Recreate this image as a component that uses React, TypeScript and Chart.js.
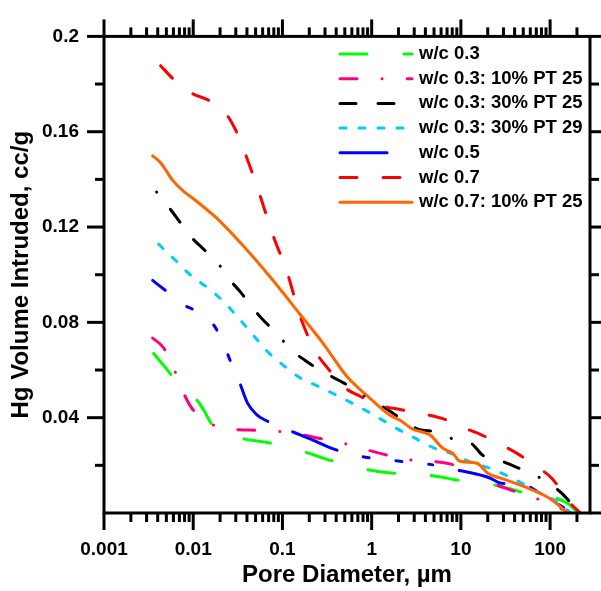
import React, { useEffect, useRef } from 'react';
import { Chart, registerables } from 'chart.js';

Chart.register(...registerables);

// ---------- data (pore diameter in µm, Hg volume intruded in cc/g) ----------
const SERIES_NAMES = [
  'w/c 0.3',
  'w/c 0.3: 10% PT 25',
  'w/c 0.3: 30% PT 25',
  'w/c 0.3: 30% PT 29',
  'w/c 0.5',
  'w/c 0.7',
  'w/c 0.7: 10% PT 25',
];

const WC03_X = [0.0036, 0.00466, 0.00586, 0.0109, 0.0134, 0.0164, 0.0339, 0.0695, 0.171, 0.352, 0.845, 1.74, 4.29, 9.27, 21.1, 35.5, 67.6, 112, 158, 204];
const WC03_Y = [0.0669, 0.0619, 0.0574, 0.0476, 0.0426, 0.0369, 0.0315, 0.0295, 0.0258, 0.022, 0.0184, 0.0167, 0.0159, 0.0138, 0.0122, 0.0102, 0.0073, 0.0064, 0.004, 0.0003];

const WC03_PT25_10_X = [0.00351, 0.00466, 0.00604, 0.00762, 0.00955, 0.0148, 0.0263, 0.0427, 0.0813, 0.167, 0.245, 0.452, 0.845, 1.35, 2.48, 4.71, 7.55, 12.6, 22.1, 33.9, 61.7, 166];
const WC03_PT25_10_Y = [0.0734, 0.0693, 0.0607, 0.0512, 0.0442, 0.038, 0.0351, 0.0348, 0.0344, 0.0328, 0.0315, 0.0295, 0.0267, 0.0247, 0.0224, 0.0217, 0.0206, 0.0176, 0.0127, 0.01, 0.0069, 0.0003];

const WC03_PT25_30_X = [0.00389, 0.0053, 0.00703, 0.00933, 0.013, 0.0187, 0.0248, 0.0339, 0.046, 0.0631, 0.0877, 0.122, 0.18, 0.265, 0.422, 0.637, 0.962, 1.49, 2.19, 3.31, 5.37, 8.13, 13.2, 17.6, 28.8, 44.7, 70.8, 107, 155, 204];
const WC03_PT25_30_Y = [0.1347, 0.1284, 0.1223, 0.1161, 0.1108, 0.1051, 0.0985, 0.0927, 0.0862, 0.0804, 0.0751, 0.0689, 0.064, 0.0599, 0.0558, 0.0521, 0.0476, 0.0435, 0.0393, 0.0352, 0.034, 0.0311, 0.0291, 0.0242, 0.0217, 0.0188, 0.0155, 0.0114, 0.006, 0.0];

const WC03_PT29_30_X = [0.00411, 0.0049, 0.00603, 0.00933, 0.0145, 0.0214, 0.0316, 0.0457, 0.0661, 0.102, 0.158, 0.26, 0.437, 0.708, 1.12, 1.78, 2.99, 4.9, 7.76, 12.3, 22.4, 37.2, 75.9, 129, 166];
const WC03_PT29_30_Y = [0.1128, 0.1099, 0.1068, 0.0998, 0.0945, 0.0891, 0.0821, 0.0752, 0.0682, 0.062, 0.0567, 0.0529, 0.0488, 0.0447, 0.0406, 0.0361, 0.0316, 0.0274, 0.025, 0.0217, 0.0184, 0.0147, 0.0085, 0.004, 0.0003];

const WC05_X = [0.00351, 0.00516, 0.0082, 0.0101, 0.0161, 0.0182, 0.0236, 0.0255, 0.0324, 0.0405, 0.0513, 0.0646, 0.116, 0.216, 0.391, 0.708, 0.891, 1.7, 2.08, 3.76, 4.51, 8.13, 21.1, 27.5, 55.0, 83.2, 129, 172];
const WC05_Y = [0.0976, 0.0927, 0.0869, 0.0853, 0.0799, 0.0771, 0.068, 0.0647, 0.0557, 0.0462, 0.0413, 0.0389, 0.0348, 0.0307, 0.0266, 0.0241, 0.0233, 0.0221, 0.0217, 0.0208, 0.0204, 0.0184, 0.0147, 0.0126, 0.0114, 0.0073, 0.0032, 0.0003];

const WC07_X = [0.00431, 0.00603, 0.00982, 0.0152, 0.0242, 0.0305, 0.0384, 0.0552, 0.0794, 0.114, 0.158, 0.245, 0.326, 0.479, 0.741, 1.31, 2.08, 3.96, 6.14, 10.3, 16.3, 28.8, 43.4, 72.8, 107, 151, 214];
const WC07_Y = [0.1877, 0.182, 0.176, 0.173, 0.1667, 0.16, 0.1507, 0.134, 0.116, 0.1005, 0.0824, 0.0667, 0.0605, 0.0531, 0.049, 0.045, 0.0434, 0.0414, 0.0397, 0.036, 0.0331, 0.0285, 0.0248, 0.0191, 0.0142, 0.006, 0.0003];

const WC07_PT25_10_X = [0.00351, 0.00431, 0.00589, 0.00759, 0.0112, 0.0186, 0.0367, 0.0733, 0.158, 0.288, 0.525, 0.891, 1.61, 2.08, 2.88, 4.51, 6.31, 8.13, 9.77, 15.1, 20.0, 27.5, 55.0, 100, 158];
const WC07_PT25_10_Y = [0.1499, 0.147, 0.1396, 0.1354, 0.1305, 0.1235, 0.1119, 0.0989, 0.0833, 0.071, 0.0574, 0.0492, 0.041, 0.0389, 0.0352, 0.0327, 0.0271, 0.025, 0.0217, 0.0209, 0.0167, 0.0147, 0.0106, 0.006, 0.0];

const X_TICKS = [0.001, 0.01, 0.1, 1, 10, 100];
const X_TICK_LABELS = ['0.001', '0.01', '0.1', '1', '10', '100'];
const Y_TICKS = [0.04, 0.08, 0.12, 0.16, 0.2];
const Y_TICK_LABELS = ['0.04', '0.08', '0.12', '0.16', '0.2'];
const X_TITLE = 'Pore Diameter, \u00b5m';
const Y_TITLE = 'Hg Volume Intruded, cc/g';

// ---------- styles ----------
const X_MIN = 0.001;
const X_MAX = 280;
const Y_MIN = 0;
const Y_MAX = 0.2;
const FONT = '"Liberation Sans", Arial, Helvetica, sans-serif';
const COLORS = ['#00FF00', '#FF0080', '#000000', '#00CCFF', '#0000FF', '#FF0000', '#FF6600'];
const DASHES: number[][] = [
  [27, 37],
  [17, 25, 0.1, 25],
  [16, 22, 16, 22, 0.1, 22],
  [6, 13],
  [47, 27, 6, 27, 6, 27, 6, 27, 47, 27, 48, 27, 6, 27, 6, 27, 4, 27],
  [17, 26],
  [],
];
const DASH_OFFSETS = [0, 0, 76, 0, 31, 0, 0];

const SERIES_X = [WC03_X, WC03_PT25_10_X, WC03_PT25_30_X, WC03_PT29_30_X, WC05_X, WC07_X, WC07_PT25_10_X];
const SERIES_Y = [WC03_Y, WC03_PT25_10_Y, WC03_PT25_30_Y, WC03_PT29_30_Y, WC05_Y, WC07_Y, WC07_PT25_10_Y];

const framePlugin = {
  id: 'frameTicks',
  afterDatasetsDraw(chart: any) {
    const { ctx, chartArea: a, scales } = chart;
    const xs = scales.x;
    const ys = scales.y;
    ctx.save();
    ctx.strokeStyle = '#000';
    ctx.lineWidth = 3;
    ctx.lineCap = 'butt';
    ctx.setLineDash([]);
    ctx.strokeRect(a.left, a.top, a.right - a.left, a.bottom - a.top);
    const MAJ = 17;
    const MIN = 9;
    const line = (x1: number, y1: number, x2: number, y2: number) => {
      ctx.beginPath();
      ctx.moveTo(x1, y1);
      ctx.lineTo(x2, y2);
      ctx.stroke();
    };
    for (const d of X_TICKS) {
      const p = xs.getPixelForValue(d);
      line(p, a.bottom, p, a.bottom + MAJ);
      line(p, a.top, p, a.top - MAJ);
      for (let m = 2; m <= 9; m++) {
        const v = d * m;
        if (v > X_MAX) break;
        const q = xs.getPixelForValue(v);
        line(q, a.bottom, q, a.bottom + MIN);
        line(q, a.top, q, a.top - MIN);
      }
    }
    for (let i = 0; i <= 10; i++) {
      const v = i * 0.02;
      const p = ys.getPixelForValue(v);
      const major = i % 2 === 0;
      const len = major ? MAJ : MIN;
      if (i > 0) line(a.left, p, a.left - len, p);
      line(a.right, p, a.right + len, p);
    }
    ctx.restore();
  },
};

const legendPlugin = {
  id: 'customLegend',
  afterDraw(chart: any) {
    const { ctx } = chart;
    ctx.save();
    const x0 = 340;
    const x1 = 412;
    const y0 = 54;
    const step = 24.7;
    SERIES_NAMES.forEach((name, i) => {
      const y = y0 + i * step;
      ctx.strokeStyle = COLORS[i];
      ctx.lineWidth = 3;
      ctx.lineCap = 'round';
      ctx.setLineDash(DASHES[i]);
      ctx.lineDashOffset = 0;
      ctx.beginPath();
      ctx.moveTo(x0, y);
      ctx.lineTo(x1, y);
      ctx.stroke();
      ctx.setLineDash([]);
      ctx.fillStyle = '#000';
      ctx.font = `bold 18.5px ${FONT}`;
      ctx.textAlign = 'left';
      ctx.textBaseline = 'middle';
      ctx.fillText(name, 419, y);
    });
    ctx.restore();
  },
};

export default function App() {
  const ref = useRef<HTMLCanvasElement>(null);
  useEffect(() => {
    document.body.style.margin = '0';
    const canvas = ref.current;
    if (!canvas) return;
    const datasets = SERIES_NAMES.map((name, i) => ({
      label: name,
      data: SERIES_X[i].map((x, j) => ({ x, y: SERIES_Y[i][j] })),
      borderColor: COLORS[i],
      backgroundColor: COLORS[i],
      borderWidth: 3,
      borderDash: DASHES[i],
      borderDashOffset: DASH_OFFSETS[i],
      borderCapStyle: 'round' as const,
      borderJoinStyle: 'round' as const,
      pointRadius: 0,
      fill: false,
      cubicInterpolationMode: 'monotone' as const,
      order: SERIES_NAMES.length - i,
    }));
    const chart = new Chart(canvas, {
      type: 'line',
      data: { datasets },
      options: {
        animation: false,
        responsive: false,
        devicePixelRatio: 1,
        layout: { padding: { left: 0, top: 26, right: 11, bottom: 0 } },
        plugins: {
          legend: { display: false },
          tooltip: { enabled: false },
        },
        scales: {
          x: {
            type: 'logarithmic',
            position: 'bottom',
            min: X_MIN,
            max: X_MAX,
            grid: { display: false, drawTicks: false },
            border: { display: false },
            afterBuildTicks: (s: any) => {
              s.ticks = X_TICKS.map((v) => ({ value: v, major: true }));
            },
            afterFit: (s: any) => {
              s.height = 78;
            },
            ticks: {
              autoSkip: false,
              maxRotation: 0,
              minRotation: 0,
              padding: 25,
              color: '#000',
              font: { family: FONT, size: 19, weight: 'bold' },
              callback: (v: any) => {
                const k = X_TICKS.findIndex((t) => Math.abs(t - Number(v)) / t < 1e-6);
                return k >= 0 ? X_TICK_LABELS[k] : '';
              },
            },
            title: {
              display: true,
              text: X_TITLE,
              color: '#000',
              font: { family: FONT, size: 24, weight: 'bold' },
              padding: { top: 0, bottom: 1 },
            },
          },
          y: {
            type: 'linear',
            position: 'left',
            min: Y_MIN,
            max: Y_MAX,
            grid: { display: false, drawTicks: false },
            border: { display: false },
            afterBuildTicks: (s: any) => {
              s.ticks = Y_TICKS.map((v) => ({ value: v }));
            },
            afterFit: (s: any) => {
              s.width = 104;
            },
            ticks: {
              padding: 25,
              color: '#000',
              font: { family: FONT, size: 19, weight: 'bold' },
              callback: (v: any) => {
                const k = Y_TICKS.findIndex((t) => Math.abs(t - Number(v)) < 1e-9);
                return k >= 0 ? Y_TICK_LABELS[k] : '';
              },
            },
            title: {
              display: true,
              text: Y_TITLE,
              color: '#000',
              font: { family: FONT, size: 24, weight: 'bold' },
              padding: { top: 7, bottom: 0 },
            },
          },
        },
      },
      plugins: [framePlugin, legendPlugin],
    } as any);
    return () => chart.destroy();
  }, []);
  return (
    <div style={{ position: 'absolute', left: 0, top: 0, width: 601, height: 591, background: '#fff' }}>
      <canvas ref={ref} width={601} height={591} style={{ width: 601, height: 591, display: 'block' }} />
    </div>
  );
}
